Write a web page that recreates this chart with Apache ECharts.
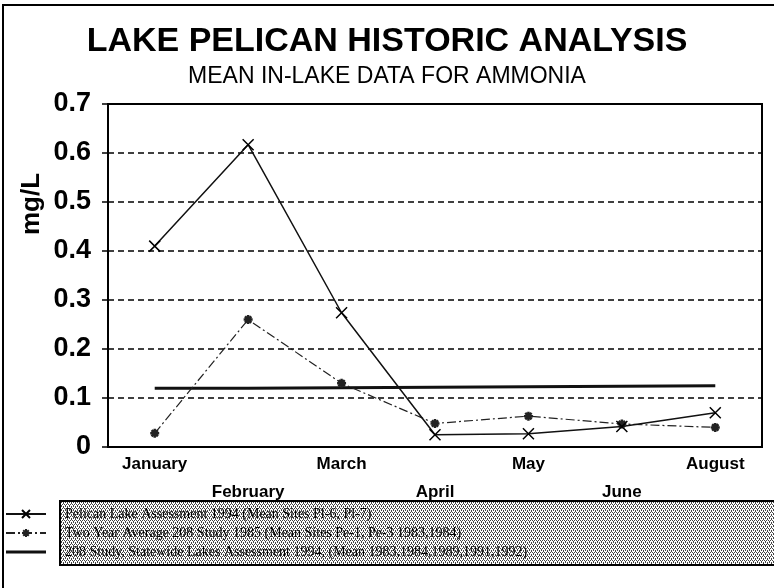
<!DOCTYPE html>
<html>
<head>
<meta charset="utf-8">
<script src="https://cdn.jsdelivr.net/npm/echarts@6/dist/echarts.min.js"></script>
<style>
  html, body { margin: 0; padding: 0; background: #fff; }
  #chart { width: 774px; height: 588px; }
</style>
</head>
<body>
<div id="chart"></div>
<script>
var months = ['January', 'February', 'March', 'April', 'May', 'June', 'August'];
var pelican1994 = [0.41, 0.617, 0.274, 0.025, 0.027, 0.042, 0.07];
var twoYear1985 = [0.028, 0.26, 0.13, 0.048, 0.063, 0.047, 0.04];
var statewide1994 = [0.12, 0.12, 0.121, 0.122, 0.123, 0.124, 0.125];
var seriesNames = [
    'Pelican Lake Assessment 1994 (Mean Sites Pl-6, Pl-7)',
    'Two Year Average 208 Study 1985 (Mean Sites Pe-1, Pe-3 1983,1984)',
    '208 Study, Statewide Lakes Assessment 1994, (Mean 1983,1984,1989,1991,1992)'
];

// stipple for the legend box
var pat = document.createElement('canvas');
pat.width = 4; pat.height = 4;
var pc = pat.getContext('2d');
pc.fillStyle = '#fff';
pc.fillRect(0, 0, 4, 4);
pc.fillStyle = '#444';
pc.fillRect(0, 0, 1, 1);
pc.fillRect(2, 0, 1, 1);
pc.fillRect(1, 2, 1, 1);
pc.fillRect(3, 2, 1, 1);
pc.fillRect(1, 1, 1, 1);
pc.fillRect(3, 3, 1, 1);

var crossPath = 'path://M0,0L10,10M10,0L0,10';
var starPath = 'path://M5,0L5,10M0,5L10,5M1.5,1.5L8.5,8.5M8.5,1.5L1.5,8.5';
var sans = 'Liberation Sans';

var option = {
    backgroundColor: '#fff',
    title: {
        text: 'LAKE PELICAN HISTORIC ANALYSIS',
        subtext: 'MEAN IN-LAKE DATA FOR AMMONIA',
        left: 'center',
        top: 20,
        itemGap: 6,
        textStyle: {
            fontFamily: sans,
            fontWeight: 'bold',
            fontSize: 34,
            color: '#000'
        },
        subtextStyle: {
            fontFamily: sans,
            fontSize: 23,
            color: '#000'
        }
    },
    legend: {
        orient: 'vertical',
        left: 0,
        top: 502,
        itemWidth: 40,
        itemHeight: 10,
        itemGap: 5,
        z: 5,
        data: [
            { name: seriesNames[0] },
            { name: seriesNames[1] },
            { name: seriesNames[2], icon: 'path://M0,0L40,0L40,3L0,3Z' }
        ],
        textStyle: {
            fontFamily: 'Liberation Serif',
            fontSize: 14,
            color: '#000',
            padding: [0, 0, 0, 14]
        }
    },
    graphic: [{
        type: 'rect',
        z: 0,
        shape: { x: 3, y: 5, width: 800, height: 620 },
        style: { fill: 'none', stroke: '#000', lineWidth: 2 }
    }, {
        type: 'rect',
        z: 0,
        shape: { x: 60, y: 501, width: 740, height: 64 },
        style: { fill: { type: 'pattern', image: pat, repeat: 'repeat' }, stroke: '#000', lineWidth: 2 }
    }, {
        type: 'text',
        z: 5,
        x: 32,
        y: 204,
        rotation: Math.PI / 2,
        style: {
            text: 'mg/L',
            fill: '#000',
            font: 'bold 26px "Liberation Sans"',
            align: 'center',
            verticalAlign: 'middle'
        }
    }],
    grid: {
        left: 108,
        right: 12,
        top: 104,
        bottom: 141,
        show: true,
        borderColor: '#000',
        borderWidth: 2
    },
    xAxis: {
        type: 'category',
        data: months,
        boundaryGap: true,
        axisLine: { lineStyle: { color: '#000', width: 2 } },
        axisTick: { alignWithLabel: true, length: 5, lineStyle: { color: '#000', width: 1.5 } },
        axisLabel: {
            interval: 0,
            color: '#000',
            fontFamily: sans,
            fontWeight: 'bold',
            fontSize: 17,
            lineHeight: 28,
            margin: 3,
            formatter: function (v, i) {
                return i % 2 === 1 ? '\n' + v : v;
            }
        }
    },
    yAxis: {
        type: 'value',
        min: 0,
        max: 0.7,
        interval: 0.1,
        axisLine: { show: true, lineStyle: { color: '#000', width: 2 } },
        axisTick: { show: true, length: 6, lineStyle: { color: '#000', width: 1.5 } },
        axisLabel: {
            color: '#000',
            fontFamily: sans,
            fontWeight: 'bold',
            fontSize: 27,
            margin: 17,
            formatter: function (v) { return v === 0 ? '0' : v.toFixed(1); }
        },
        splitLine: {
            lineStyle: { color: '#000', width: 1.5, type: [6, 4] }
        }
    },
    series: [{
        name: seriesNames[0],
        type: 'line',
        data: pelican1994,
        symbol: crossPath,
        symbolSize: 11,
        itemStyle: { color: '#000', borderColor: '#000', borderWidth: 1.5 },
        lineStyle: { color: '#111', width: 1.5 },
        z: 4
    }, {
        name: seriesNames[1],
        type: 'line',
        data: twoYear1985,
        symbol: starPath,
        symbolSize: 9,
        itemStyle: { color: '#222', borderColor: '#222', borderWidth: 2.5 },
        lineStyle: { color: '#222', width: 1.2, type: [9, 3, 2, 3] },
        z: 3
    }, {
        name: seriesNames[2],
        type: 'line',
        data: statewide1994,
        showSymbol: false,
        symbol: 'none',
        itemStyle: { color: '#111' },
        lineStyle: { color: '#111', width: 3 },
        z: 2
    }]
};

var myChart = echarts.init(document.getElementById('chart'));
myChart.setOption(option);
</script>
</body>
</html>
